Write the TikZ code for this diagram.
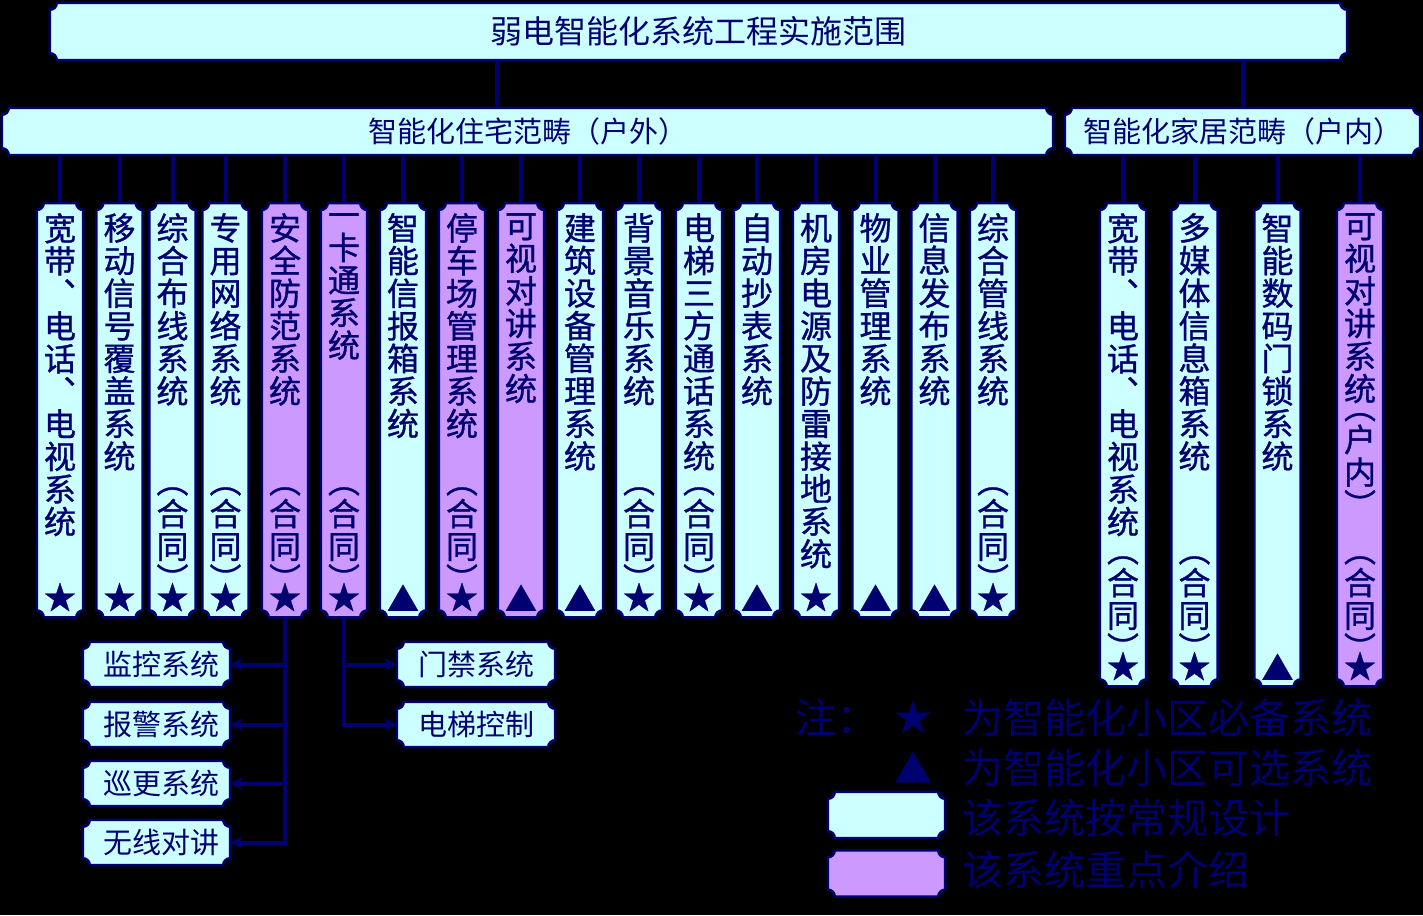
\documentclass[tikz,border=0pt]{standalone}
\usepackage{fontspec}
\setmainfont{Noto Sans CJK SC}
\newfontfamily\heavycjk[FakeBold=1]{Noto Sans CJK SC}
\usetikzlibrary{calc,arrows.meta}
\pgfdeclarelayer{back}
\pgfdeclarelayer{plaques}
\pgfsetlayers{back,plaques,main}
\definecolor{navyline}{HTML}{000070}
\definecolor{boxcyan}{HTML}{CCFFFF}
\definecolor{boxlilac}{HTML}{CC99FF}
\def\pr{7pt}
\newcommand\plaque[2]{%
  \draw[plaqueline,fill=#2] ($(#1.north west)+(\pr,0)$) -- ($(#1.north east)+(-\pr,0)$)
    arc[start angle=180,end angle=270,radius=\pr] -- ($(#1.south east)+(0,\pr)$)
    arc[start angle=90,end angle=180,radius=\pr] -- ($(#1.south west)+(\pr,0)$)
    arc[start angle=0,end angle=90,radius=\pr] -- ($(#1.north west)+(0,-\pr)$)
    arc[start angle=270,end angle=360,radius=\pr] -- cycle;}
\newcommand\vchars[1]{\edef\vtmp{#1}\expandafter\vcharsaux\vtmp\relax}
\def\vcharsaux#1{\ifx\relax#1\else
  \ifx︵#1\vspace{-.45em}\fi
  \hbox to\linewidth{\hss#1\hss}%
  \ifx︶#1\vspace{-.45em}\fi
  \expandafter\vcharsaux\fi}
\newcommand\colcontent[4]{\parbox[c][#1][s]{46pt}{\vspace*{10pt}\vchars{#2}\vfill\vchars{#3}\vchars{#4}\vspace*{6pt}}}
\tikzset{
  box/.style={inner sep=0pt,text=navyline,font=\fontsize{29}{32}\selectfont},
  colbox/.style={inner sep=0pt,text=navyline,font=\heavycjk\fontsize{32}{32.6}\selectfont,anchor=north},
  legtext/.style={inner sep=0pt,text=navyline,font=\fontsize{41}{44}\selectfont},
  plaqueline/.style={draw=navyline,line width=2.5pt},
  link/.style={draw=navyline,line width=4pt}
}
\begin{document}
\begin{tikzpicture}[x=1pt,y=-1pt,>={Stealth[length=12pt,width=12pt,inset=3pt]}]
\useasboundingbox (0,0) rectangle (1423,915);
\begin{pgfonlayer}{back}\fill[black] (0,0) rectangle (1423,915);\end{pgfonlayer}
\node[box,minimum width=1297pt,minimum height=57pt,font=\fontsize{32}{34}\selectfont] (top) at (698.5,31.5) {弱电智能化系统工程实施范围};
\node[box,minimum width=1051pt,minimum height=47pt] (out) at (527.5,131.5) {智能化住宅范畴（户外）};
\node[box,minimum width=355pt,minimum height=47pt] (in) at (1242.5,131.5) {智能化家居范畴（户内）};
\begin{pgfonlayer}{plaques}\plaque{top}{boxcyan}\plaque{out}{boxcyan}\plaque{in}{boxcyan}\end{pgfonlayer}
\coordinate (split) at (497,84);
\draw[link] (top.south -| split) -- (out.north -| split);
\draw[link] (top.south -| in) -- (in.north);
\foreach \cx/\txt/\extra/\mk/\clr [count=\i] in {
  60/宽带︑电话︑电视系统/{}/★/boxcyan, 119.5/移动信号覆盖系统/{}/★/boxcyan,
  172.5/综合布线系统/︵合同︶/★/boxcyan, 225.5/专用网络系统/︵合同︶/★/boxcyan,
  285/安全防范系统/︵合同︶/★/boxlilac, 344/一卡通系统/︵合同︶/★/boxlilac,
  403/智能信报箱系统/{}/▲/boxcyan, 462/停车场管理系统/︵合同︶/★/boxlilac,
  521/可视对讲系统/{}/▲/boxlilac, 580/建筑设备管理系统/{}/▲/boxcyan,
  639/背景音乐系统/︵合同︶/★/boxcyan, 699/电梯三方通话系统/︵合同︶/★/boxcyan,
  757/自动抄表系统/{}/▲/boxcyan, 816/机房电源及防雷接地系统/{}/★/boxcyan,
  875.5/物业管理系统/{}/▲/boxcyan, 934.5/信息发布系统/{}/▲/boxcyan,
  993/综合管线系统/︵合同︶/★/boxcyan}{
  \node[colbox] (c\i) at (\cx,203) {\colcontent{414pt}{\txt}{\extra}{\mk}};
  \draw[link] (out.south -| c\i.north) -- (c\i.north);
  \begin{pgfonlayer}{plaques}\plaque{c\i}{\clr}\end{pgfonlayer}
}
\foreach \cx/\txt/\mk/\clr [count=\i] in {
  1123/宽带︑电话︑电视系统/★/boxcyan, 1194.5/多媒体信息箱系统/★/boxcyan,
  1277.5/智能数码门锁系统/▲/boxcyan, 1360/可视对讲系统︵户内︶/★/boxlilac}{
  \ifnum\i=3 \def\extra{}\else\def\extra{︵合同︶}\fi
  \node[colbox] (r\i) at (\cx,203) {\colcontent{483pt}{\txt}{\extra}{\mk}};
  \draw[link] (in.south -| r\i.north) -- (r\i.north);
  \begin{pgfonlayer}{plaques}\plaque{r\i}{\clr}\end{pgfonlayer}
}
\foreach \y/\txt [count=\i] in {664.5/监控系统,724.5/报警系统,783.5/巡更系统,842.5/无线对讲}{
  \node[box,minimum width=147pt,minimum height=45pt] (s\i) at (156.5,\y) {\hspace{10pt}\txt};
  \begin{pgfonlayer}{plaques}\plaque{s\i}{boxcyan}\end{pgfonlayer}
}
\foreach \y/\txt [count=\i] in {664.5/门禁系统,724.5/电梯控制}{
  \node[box,minimum width=158pt,minimum height=45pt] (e\i) at (476,\y) {\txt};
  \begin{pgfonlayer}{plaques}\plaque{e\i}{boxcyan}\end{pgfonlayer}
}
\draw[link,->] (c5.south) |- (s4.east);
\foreach \i in {1,2,3} \draw[link,->] (c5.south |- s\i.east) -- (s\i.east);
\draw[link,->] (c6.south) |- (e2.west);
\draw[link,->] (c6.south |- e1.west) -- (e1.west);
\node[box,minimum width=117pt,minimum height=46pt] (lg1) at (886.5,815) {};
\node[box,minimum width=117pt,minimum height=46pt] (lg2) at (886.5,873.5) {};
\begin{pgfonlayer}{plaques}\plaque{lg1}{boxcyan}\plaque{lg2}{boxlilac}\end{pgfonlayer}
\node[legtext] (note) at (836,718) {注：};
\node[legtext,font=\fontsize{38}{40}\selectfont] (star) at (913,717) {★};
\node[legtext,font=\fontsize{38}{40}\selectfont] (tri) at (913,768) {▲};
\node[legtext,anchor=west] (l1) at (962,718) {为智能化小区必备系统};
\node[legtext,anchor=west] (l2) at (962,768) {为智能化小区可选系统};
\node[legtext,anchor=west] (l3) at (962,818) {该系统按常规设计};
\node[legtext,anchor=west] (l4) at (962,870) {该系统重点介绍};
\end{tikzpicture}
\end{document}
